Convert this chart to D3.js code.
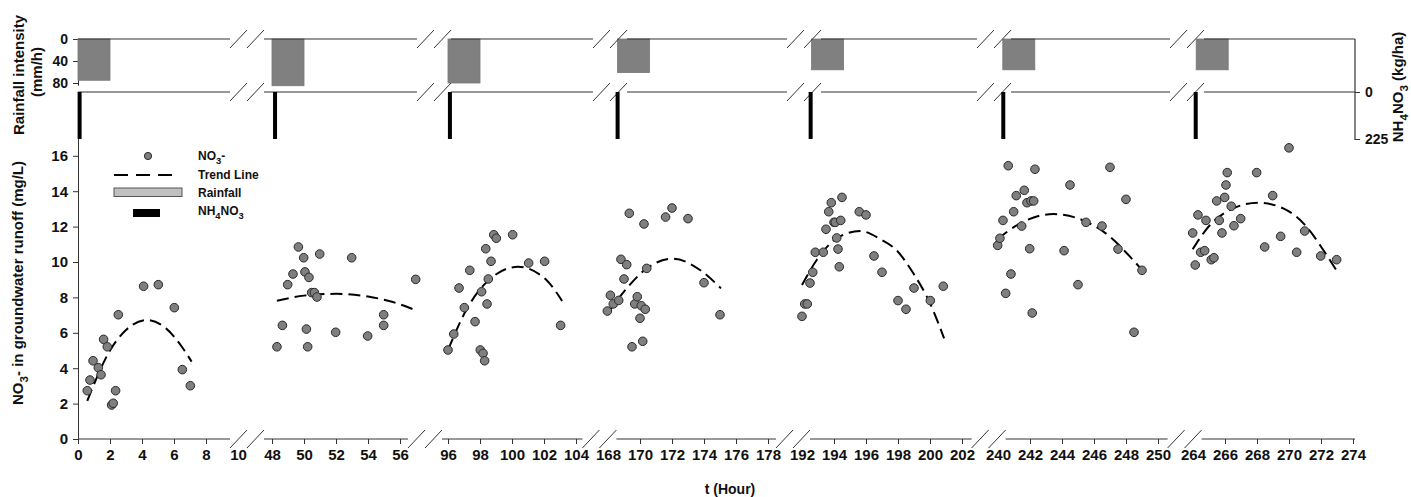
<!DOCTYPE html>
<html>
<head>
<meta charset="utf-8">
<script src="https://cdn.jsdelivr.net/npm/d3@7.9.0/dist/d3.min.js"></script>
<style>
  body { margin: 0; background: #fff; }
  text { font-family: "Liberation Sans", Arial, sans-serif; font-weight: bold; fill: #111; }
</style>
</head>
<body>
<script>
// rainfall events (start hour, mm/h), 2 h long
const rainStart = [0, 48, 96, 168.6, 192.6, 240.3, 264.2];
const rainIntensity = [75, 85, 80, 61, 56, 56, 56];
const rainDuration = 2;

// NH4NO3 applications (hour, kg/ha)
const fertHours = [0.1, 48.19, 96.12, 168.6, 192.54, 240.33, 264.17];
const fertAmount = [225, 225, 225, 225, 225, 225, 225];

// NO3- observations
const no3Hours = [
  0.58, 0.75, 0.94, 1.27, 1.44, 1.6, 1.83, 2.1, 2.2, 2.35, 2.52, 4.1, 5.02, 6.02, 6.52, 7.02,
  48.31, 48.65, 48.98, 49.31, 49.65, 49.98, 50.06, 50.15, 50.23, 50.31, 50.48, 50.65, 50.81, 50.98, 51.98, 52.98, 53.98, 54.98, 54.98, 56.98,
  96.0, 96.36, 96.69, 97.02, 97.36, 97.69, 98.02, 98.1, 98.19, 98.29, 98.36, 98.44, 98.52, 98.69, 98.86, 99.02, 100.04, 101.04, 102.04, 103.04,
  167.96, 168.15, 168.33, 168.67, 168.81, 169.0, 169.17, 169.33, 169.5, 169.67, 169.83, 170.0, 170.08, 170.17, 170.25, 170.33, 170.42, 171.6, 172.0, 173.0, 174.0, 175.0,
  192.0, 192.17, 192.33, 192.5, 192.67, 192.83, 193.33, 193.5, 193.67, 193.83, 194.0, 194.08, 194.17, 194.25, 194.33, 194.42, 194.5, 195.58, 196.0, 196.5, 197.0, 198.0, 198.5, 199.0, 200.02, 200.83,
  239.98, 240.12, 240.31, 240.48, 240.64, 240.81, 240.98, 241.14, 241.48, 241.64, 241.81, 241.98, 242.06, 242.14, 242.23, 242.31, 244.13, 244.5, 245.0, 245.5, 246.5, 247.0, 247.5, 248.0, 248.5, 249.0,
  263.98, 264.14, 264.31, 264.48, 264.73, 264.81, 265.14, 265.31, 265.48, 265.64, 265.81, 265.98, 266.06, 266.14, 266.39, 266.56, 266.98, 267.98, 268.48, 268.98, 269.48, 270.0, 270.48, 270.98, 271.98, 272.98
];
const no3Conc = [
  2.73, 3.33, 4.42, 4.03, 3.63, 5.63, 5.21, 1.92, 2.02, 2.73, 7.02, 8.63, 8.72, 7.42, 3.92, 3.01,
  5.21, 6.42, 8.72, 9.32, 10.85, 10.24, 9.44, 6.21, 5.21, 9.13, 8.27, 8.27, 8.02, 10.45, 6.03, 10.24, 5.82, 7.02, 6.42, 9.02,
  5.03, 5.93, 8.53, 7.42, 9.53, 6.63, 5.03, 8.32, 4.84, 4.42, 10.75, 7.63, 9.04, 10.04, 11.54, 11.34, 11.54, 9.94, 10.04, 6.42,
  7.23, 8.12, 7.63, 7.83, 10.15, 9.04, 9.85, 12.75, 5.21, 7.63, 8.04, 6.82, 7.53, 5.52, 12.15, 7.33, 9.64, 12.54, 13.05, 12.45, 8.83, 7.02,
  6.93, 7.63, 7.63, 8.81, 9.42, 10.55, 10.55, 11.85, 12.84, 13.35, 12.24, 12.24, 11.36, 10.73, 9.73, 12.35, 13.65, 12.84, 12.66, 10.34, 9.42, 7.82, 7.33, 8.53, 7.82, 8.63,
  10.94, 11.34, 12.35, 8.23, 15.44, 9.32, 12.84, 13.75, 12.03, 14.05, 13.35, 10.75, 13.45, 7.12, 13.45, 15.24, 10.64, 14.35, 8.72, 12.24, 12.03, 15.35, 10.73, 13.54, 6.03, 9.53,
  11.64, 9.83, 12.66, 10.55, 10.64, 12.35, 10.13, 10.24, 13.45, 12.35, 11.64, 13.65, 14.35, 15.05, 13.15, 12.05, 12.45, 15.05, 10.85, 13.75, 11.45, 16.45, 10.55, 11.75, 10.34, 10.13
];

// trend line
const trendHours = [
  0.58, 2, 3, 4.3, 5.5, 6.5, 7.1,
  48.31, 50, 52, 54, 55.5, 57.04,
  96.0, 97.15, 98.4, 100.38, 102.15, 103.13,
  167.96, 169.17, 170.42, 172.08, 173.75, 175.06,
  192.0, 192.92, 194.17, 195.63, 196.88, 197.92, 198.96, 200.0, 200.88,
  239.98, 241.38, 243.46, 245.5, 247.0, 248.25, 249.04,
  263.98, 265.06, 266.52, 268.08, 269.64, 271.1, 272.14, 273.02
];
const trendConc = [
  2.16, 5.0, 6.16, 6.72, 6.25, 5.2, 4.37,
  7.81, 8.1, 8.2, 8.05, 7.75, 7.25,
  5.03, 7.3, 8.85, 9.73, 8.98, 7.8,
  7.06, 8.51, 9.64, 10.19, 9.55, 8.51,
  8.7, 10.11, 11.34, 11.75, 11.3, 10.65, 9.36, 7.67, 5.69,
  11.3, 12.18, 12.71, 12.28, 11.43, 10.3, 9.51,
  10.72, 12.09, 13.03, 13.35, 13.03, 11.99, 10.68, 9.45
];

const xTickHours = [0, 2, 4, 6, 8, 10, 48, 50, 52, 54, 56, 96, 98, 100, 102, 104,
  168, 170, 172, 174, 176, 178, 192, 194, 196, 198, 200, 202,
  240, 242, 244, 246, 248, 250, 264, 266, 268, 270, 272, 274];
const yTicks = [0, 2, 4, 6, 8, 10, 12, 14, 16];
const rainTicks = [0, 40, 80];
const fertTicks = [0, 225];

// broken time axis: each piece keeps 16 px per hour
const PX_PER_HOUR = 16;
const segments = [
  { t0: 0, t1: 9.5, x0: 78 },
  { t0: 48, t1: 56.5, x0: 272 },
  { t0: 96, t1: 104.4, x0: 448 },
  { t0: 168, t1: 178.5, x0: 608 },
  { t0: 192, t1: 202.6, x0: 802 },
  { t0: 240, t1: 250.6, x0: 998 },
  { t0: 264, t1: 274, x0: 1193 },
];
const topBreaks = [230, 417, 593, 787, 977, 1170];
const rightX = 1355;

const W = 1411, H = 497;
const svg = d3.select("body").append("svg").attr("width", W).attr("height", H);

const xScales = segments.map((s) =>
  d3.scaleLinear().domain([s.t0, s.t1]).range([s.x0, s.x0 + (s.t1 - s.t0) * PX_PER_HOUR]),
);
function segIndex(t) {
  let k = 0;
  segments.forEach((s, i) => {
    if (t >= s.t0 - 1.5) k = i;
  });
  return k;
}
const xOf = (t) => xScales[segIndex(t)](t);

const y = d3.scaleLinear().domain([0, 17]).range([439, 138.1]);
const yRain = d3.scaleLinear().domain([0, 84]).range([39, 85.2]);
const yFert = d3.scaleLinear().domain([0, 225]).range([92, 139]);

function drawBreak(g, a, yy) {
  [0, 17].forEach((off) => {
    g.append("line")
      .attr("x1", a + off).attr("y1", yy + 9)
      .attr("x2", a + off + 17).attr("y2", yy - 9)
      .attr("stroke", "#333").attr("stroke-width", 1);
  });
}

// ---- bottom axis ----
const bottomBreaks = xScales.slice(0, -1).map((s) => s.range()[1]);
const axisG = svg.append("g");
xScales.forEach((sc, i) => {
  const from = i === 0 ? 78 : bottomBreaks[i - 1] + 34;
  const to = i === xScales.length - 1 ? rightX : bottomBreaks[i];
  axisG.append("line")
    .attr("x1", from).attr("x2", to).attr("y1", 439).attr("y2", 439)
    .attr("stroke", "#333").attr("stroke-width", 1.2);
  const vals = xTickHours.filter((t) => segIndex(t) === i);
  const g = axisG.append("g").attr("transform", "translate(0,439)")
    .call(d3.axisBottom(sc).tickValues(vals).tickSize(5).tickPadding(5).tickFormat(d3.format("d")));
  g.select(".domain").remove();
  g.selectAll(".tick line").attr("stroke", "#333")
    .attr("opacity", (t) => {
      const x = sc(t);
      return bottomBreaks.some((a) => x > a - 2 && x < a + 36) ? 0 : 1;
    });
  g.selectAll(".tick text").style("font-size", "15px").style("font-family", null);
});
bottomBreaks.forEach((a) => drawBreak(axisG, a, 439));

// ---- left y axis ----
const yAx = svg.append("g").attr("transform", "translate(78,0)")
  .call(d3.axisLeft(y).tickValues(yTicks).tickSize(5).tickSizeOuter(0).tickPadding(5));
yAx.select(".domain").attr("stroke", "#333");
yAx.selectAll(".tick line").attr("stroke", "#333");
yAx.selectAll(".tick text").style("font-size", "15px").style("font-family", null);

// ---- rainfall panel ----
const rainAx = svg.append("g").attr("transform", "translate(78,0)")
  .call(d3.axisLeft(yRain).tickValues(rainTicks).tickSize(5).tickSizeOuter(0).tickPadding(5));
rainAx.select(".domain").attr("stroke", "#333");
rainAx.selectAll(".tick line").attr("stroke", "#333");
rainAx.selectAll(".tick text").style("font-size", "14px").style("font-family", null);

svg.append("g").selectAll("rect").data(rainStart).join("rect")
  .attr("x", (d) => xOf(d))
  .attr("y", yRain(0))
  .attr("width", (d) => xOf(d + rainDuration) - xOf(d))
  .attr("height", (d, i) => yRain(rainIntensity[i]) - yRain(0))
  .attr("fill", "#808080")
  .attr("stroke", "#777")
  .attr("stroke-width", 0.8);

// top lines with breaks
const topG = svg.append("g");
[39, 92].forEach((yy) => {
  const xs = [78, ...topBreaks.flatMap((a) => [a, a + 34]), rightX];
  for (let i = 0; i < xs.length; i += 2) {
    topG.append("line")
      .attr("x1", xs[i]).attr("x2", xs[i + 1]).attr("y1", yy).attr("y2", yy)
      .attr("stroke", "#333").attr("stroke-width", 1.2);
  }
  topBreaks.forEach((a) => drawBreak(topG, a, yy));
});

// ---- NH4NO3 panel ----
svg.append("g").selectAll("rect").data(fertHours).join("rect")
  .attr("x", (d) => xOf(d) - 2)
  .attr("y", yFert(0))
  .attr("width", 4)
  .attr("height", (d, i) => yFert(fertAmount[i]) - yFert(0))
  .attr("fill", "#000");

svg.append("line")
  .attr("x1", rightX).attr("x2", rightX).attr("y1", 39).attr("y2", 140)
  .attr("stroke", "#333").attr("stroke-width", 1.2);
const fAx = svg.append("g").attr("transform", `translate(${rightX},0)`)
  .call(d3.axisRight(yFert).tickValues(fertTicks).tickSize(5).tickPadding(5));
fAx.select(".domain").remove();
fAx.selectAll(".tick line").attr("stroke", "#333");
fAx.selectAll(".tick text").style("font-size", "14px").style("font-family", null);

// ---- trend lines ----
const line = d3.line()
  .x((d) => xOf(d[0]))
  .y((d) => y(d[1]))
  .curve(d3.curveMonotoneX);
const trendGroups = d3.groups(trendHours.map((t, i) => [t, trendConc[i]]), (d) => segIndex(d[0]));
svg.append("g").selectAll("path").data(trendGroups).join("path")
  .attr("d", (g) => line(g[1]))
  .attr("fill", "none")
  .attr("stroke", "#000")
  .attr("stroke-width", 2)
  .attr("stroke-dasharray", "12,6");

// ---- NO3- points ----
svg.append("g").selectAll("circle").data(no3Hours).join("circle")
  .attr("cx", (d) => xOf(d))
  .attr("cy", (d, i) => y(no3Conc[i]))
  .attr("r", 4.3)
  .attr("fill", "#7f7f7f")
  .attr("stroke", "#2a2a2a")
  .attr("stroke-width", 1);

// ---- legend ----
const leg = svg.append("g");
leg.append("circle").attr("cx", 148).attr("cy", 156).attr("r", 3.6)
  .attr("fill", "#7f7f7f").attr("stroke", "#2a2a2a");
leg.append("line").attr("x1", 114).attr("x2", 176).attr("y1", 175).attr("y2", 175)
  .attr("stroke", "#000").attr("stroke-width", 2).attr("stroke-dasharray", "14,8");
leg.append("rect").attr("x", 114).attr("y", 188).attr("width", 68).attr("height", 8.5)
  .attr("fill", "#c0c0c0").attr("stroke", "#555");
leg.append("rect").attr("x", 133).attr("y", 209).attr("width", 27).attr("height", 8)
  .attr("fill", "#000");

function chem(sel, parts, size) {
  // parts: [text, isSub]
  parts.forEach(([s, sub], i) => {
    const prevSub = i > 0 && parts[i - 1][1];
    sel.append("tspan")
      .attr("dy", sub ? size * 0.3 : prevSub ? -size * 0.3 : 0)
      .style("font-size", sub ? size * 0.78 + "px" : size + "px")
      .text(s);
  });
}
chem(leg.append("text").attr("x", 198).attr("y", 160), [["NO", false], ["3", true], ["-", false]], 12);
leg.append("text").attr("x", 198).attr("y", 179).style("font-size", "12px").text("Trend Line");
leg.append("text").attr("x", 198).attr("y", 197).style("font-size", "12px").text("Rainfall");
chem(leg.append("text").attr("x", 198).attr("y", 215), [["NH", false], ["4", true], ["NO", false], ["3", true]], 12);

// ---- axis titles ----
svg.append("text").attr("x", 730).attr("y", 494).attr("text-anchor", "middle")
  .style("font-size", "14px").text("t (Hour)");

svg.append("text").attr("transform", "translate(24,75) rotate(-90)").attr("text-anchor", "middle")
  .style("font-size", "15px").text("Rainfall intensity");
svg.append("text").attr("transform", "translate(42,72) rotate(-90)").attr("text-anchor", "middle")
  .style("font-size", "15px").text("(mm/h)");

chem(svg.append("text").attr("transform", "translate(23,283) rotate(-90)").attr("text-anchor", "middle"),
  [["NO", false], ["3", true], ["- in groundwater runoff (mg/L)", false]], 15);

chem(svg.append("text").attr("transform", "translate(1403,87) rotate(-90)").attr("text-anchor", "middle"),
  [["NH", false], ["4", true], ["NO", false], ["3", true], [" (kg/ha)", false]], 15);
</script>
</body>
</html>
